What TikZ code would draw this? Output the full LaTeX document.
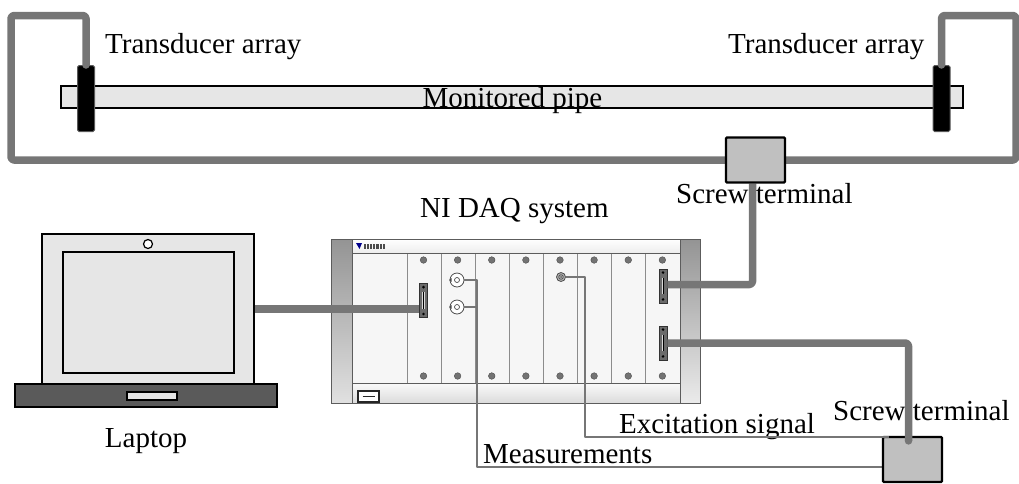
\documentclass[tikz,border=0pt]{standalone}
\usepackage{fontspec}
\setmainfont{Liberation Serif}
\pgfdeclarelayer{over}
\pgfsetlayers{main,over}
\definecolor{cablegray}{HTML}{767676}
\definecolor{pipefill}{HTML}{E6E6E6}
\definecolor{termfill}{HTML}{C0C0C0}
\definecolor{basefill}{HTML}{5A5A5A}
\definecolor{slotfill}{HTML}{F6F6F6}
\definecolor{edgegray}{HTML}{5C5C5C}
\begin{document}
\begin{tikzpicture}[x=1pt,y=-1pt,
  lbl/.style={font=\fontsize{29}{34}\selectfont, inner sep=0pt},
  cable/.style={draw=cablegray, line width=7.5pt, line cap=round, line join=round, rounded corners=3pt},
  wire/.style={draw=cablegray, line width=2pt, line join=round},
  outlined/.style={rectangle, inner sep=0pt, draw=black, line width=1.5pt},
  transducer/.style={rectangle, inner sep=0pt, fill=black, draw=black!65, line width=1pt,
    rounded corners=1.5pt, minimum width=17pt, minimum height=66pt},
  terminal/.style={outlined, fill=termfill, line width=2.2pt, rounded corners=1pt,
    minimum width=59pt, minimum height=45pt},
  dsub/.style={rectangle, inner sep=0pt, fill=black!58, draw=black!80, line width=0.8pt,
    minimum width=8pt, minimum height=34pt},
  bnc/.style={circle, inner sep=0pt, minimum size=14pt, fill=white, draw=black!70, line width=0.8pt},
  sma/.style={circle, inner sep=0pt, minimum size=9pt, fill=black!30, draw=black!70, line width=0.8pt},
  screwhead/.style={fill=black!55, draw=black!70, line width=0.4pt},
  chassisedge/.style={draw=edgegray, line width=1pt},
  slotline/.style={draw=black!45, line width=1pt},
]
\useasboundingbox (0,0) rectangle (1019,483);

% screw terminals sit above the cables
\begin{pgfonlayer}{over}
\node[terminal] (st1) at (755.5,160) {};
\node[terminal] (st2) at (912.5,459.5) {};
\end{pgfonlayer}

% pipe with the two transducer rings
\node[outlined, fill=pipefill, minimum width=902pt, minimum height=22pt] (pipe) at (512,97) {};
\node[transducer] (tl) at (86,98.5) {};
\node[transducer] (tr) at (941.5,98.5) {};

% transducer cable loop through the upper terminal
\coordinate (cl) at (11,15.5);
\coordinate (cr) at (1016,15.5);
\draw[cable] (tl.north) |- (cl) |- (st1.west);
\draw[cable] (st1.east) -| (cr) -| (tr.north);

\node[lbl, anchor=base west] (tlbl) at (105,53) {Transducer array};
\node[lbl, anchor=base west] (trlbl) at (728,53) {Transducer array};
\node[lbl, anchor=base] (pipelbl) at (512.5,107) {Monitored pipe};

% laptop
\node[outlined, fill=pipefill, minimum width=212pt, minimum height=150pt] (screen) at (148,309) {};
\node[outlined, fill=pipefill, minimum width=171pt, minimum height=121pt] (display) at (148.5,312.5) {};
\node[circle, draw=black, line width=1.2pt, fill=white, minimum size=9pt, inner sep=0pt] (camera) at (148,244) {};
\node[outlined, fill=basefill, minimum width=262pt, minimum height=23pt] (kbd) at (146,395.5) {};
\node[outlined, fill=pipefill, line width=1.2pt, minimum width=50pt, minimum height=8pt] (pad) at (152,396) {};
\node[lbl, anchor=base] (laplbl) at (146,447) {Laptop};

% DAQ chassis
\shade[top color=black!42, bottom color=black!12] (331,239) rectangle (352,403);
\shade[top color=black!42, bottom color=black!8] (680,239) rectangle (700,403);
\shade[top color=white, bottom color=black!7] (352,239) rectangle (680,253);
\fill[slotfill] (352,253) rectangle (680,383);
\shade[top color=black!2, bottom color=black!14] (352,383) rectangle (680,403);
\foreach \i in {0,...,8} \draw[slotline] ({407+34.125*\i},253) -- ({407+34.125*\i},383);
\draw[chassisedge] (331,239) rectangle (700,403);
\draw[chassisedge] (352,239) -- (352,403) (680,239) -- (680,403)
  (352,253) -- (680,253) (352,383) -- (680,383);
\foreach \i in {0,...,7} {
  \filldraw[screwhead] ({423.5+34.125*\i},260) circle (3.3);
  \filldraw[screwhead] ({423.5+34.125*\i},376) circle (3.3);
}
% maker badge
\fill[blue!55!black] (356,243) -- (362,243) -- (359.5,249) -- cycle;
\foreach \k in {0,...,6} \fill[black!70] ({363.5+3.2*\k},244) rectangle ++(2.2,4.5);
% power switch
\draw[black!85, line width=1.6pt, fill=white] (358,391) rectangle (379,402);
\draw[black!85, line width=1.2pt] (362.5,396.5) -- (374.5,396.5);

\node[lbl, anchor=base west] (daqlbl) at (420,217) {NI DAQ system};

% module connectors
\node[dsub] (conL) at (423.5,300.5) {};
\node[dsub] (conA) at (663,286) {};
\node[dsub] (conB) at (663,343) {};
\foreach \c in {conL,conA,conB} {
  \fill[black] ([yshift=-4pt]\c.north) circle (1.4);
  \fill[black] ([yshift=4pt]\c.south) circle (1.4);
  \draw[black!15, line width=2.4pt] ([yshift=-9pt]\c.north) -- ([yshift=9pt]\c.south);
  \draw[black, line width=0.9pt] ([yshift=-9pt]\c.north) -- ([yshift=9pt]\c.south);
}
\node[bnc] (bncA) at (457,280) {};
\node[bnc] (bncB) at (457,307) {};
\foreach \b in {bncA,bncB} {
  \draw[black!70, line width=0.7pt] (\b) circle (2.5);
  \fill[black!70] ([xshift=-0.5pt]\b.west) -- ++(2.5,-2) -- ++(0,4) -- cycle;
}
\node[sma] (exc) at (561,277) {};
\draw[black!70, line width=0.7pt] (exc) circle (2.3);
\fill[black!60] (exc) circle (1);

% laptop link and upper terminal link
\draw[cable, line cap=butt] (screen.east) -- (screen.east -| conL.west);
\node[lbl, anchor=base west] (st1lbl) at (676,203) {Screw terminal};
\draw[cable, line cap=butt] ([xshift=-3pt]st1.south) |- ([yshift=1.5pt]conA.east);

% measurement wires
\coordinate (mv) at (477,300);
\draw[wire] (bncA.east) -| (mv) |- ([yshift=-7.5pt]st2.west);
\draw[wire] (bncB.east) -- (bncB.east -| mv);
\node[lbl, anchor=base west] (measlbl) at (483,463) {Measurements};
\node[lbl, anchor=base west] (exclbl) at (619,433) {Excitation signal};
\node[lbl, anchor=base west] (st2lbl) at (833,420) {Screw terminal};

\begin{pgfonlayer}{over}
% excitation wire and lower terminal link
\coordinate (xv) at (585,300);
\draw[wire] (exc.east) -| (xv) |- ([xshift=7pt,yshift=-1pt]st2.north west);
\coordinate (b2end) at ([xshift=-4pt,yshift=-5pt]st2.north);
\draw[cable, line cap=butt] (conB.east) -| (b2end);
\fill[cablegray] (b2end) circle (3.75);
\end{pgfonlayer}
\end{tikzpicture}
\end{document}
